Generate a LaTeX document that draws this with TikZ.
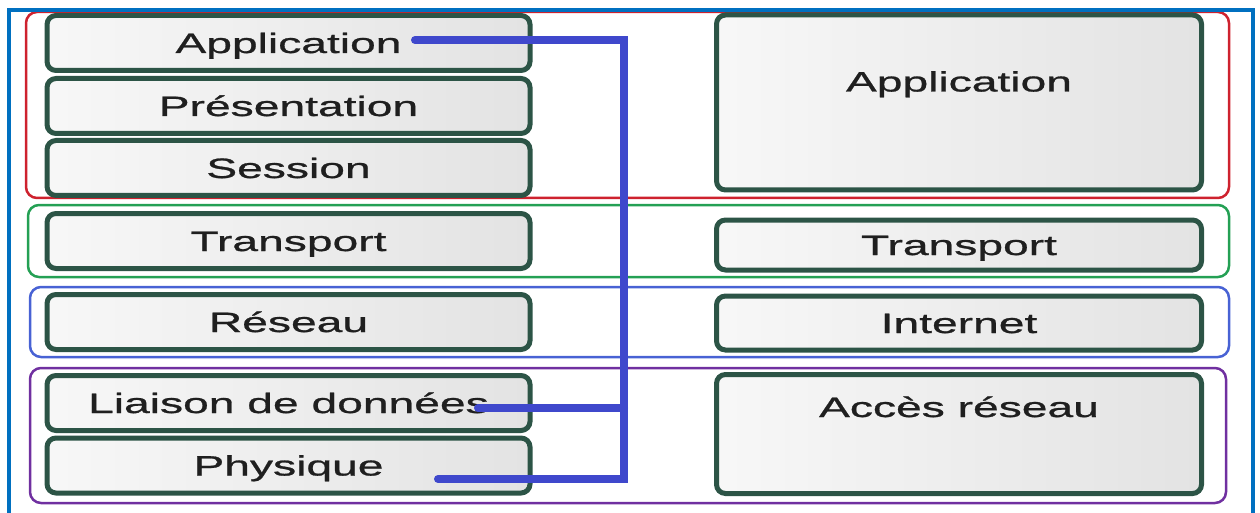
\documentclass[tikz,border=0pt]{standalone}
\usepackage{fontspec}
\setmainfont{Liberation Sans}[FakeStretch=1.65, FakeBold=0.9]
\usepackage{tikz}
\usetikzlibrary{
    calc,
    positioning
}
\definecolor{cadrebleu}{RGB}{0,112,192}
\definecolor{busbleu}{RGB}{63,72,204}
\definecolor{bordvert}{RGB}{44,84,70}
\definecolor{grouperouge}{RGB}{206,34,46}
\definecolor{groupevert}{RGB}{36,160,84}
\definecolor{groupebleu}{RGB}{72,98,212}
\definecolor{groupeviolet}{RGB}{112,48,160}

\tikzset{
    couche/.style={draw=bordvert, line width=5pt, rounded corners=9pt,
        left color=black!3, right color=black!11, inner sep=0pt,
        minimum width=483pt, minimum height=55pt,
        font=\fontsize{28}{30}\selectfont, text=black!88,
        text height=26pt, text depth=6pt},
    etiquette/.style={inner sep=0pt, font=\fontsize{28}{30}\selectfont,
        text=black!88, text height=26pt, text depth=6pt},
    groupe/.style={line width=2.5pt, rounded corners=11pt},
    bus/.style={draw=busbleu, line width=8pt, line cap=round}
}

\begin{document}
\begin{tikzpicture}[x=1pt, y=-1pt]
    \useasboundingbox (0, 0) rectangle (1260, 513);
    % groupes de couches
    \draw[groupe, grouperouge] (26, 12) rectangle (1229, 198);
    \draw[groupe, groupevert] (28, 205) rectangle (1229, 277);
    \draw[groupe, groupebleu] (30, 287) rectangle (1229, 357);
    \draw[groupe, groupeviolet] (30, 368) rectangle (1226, 503);
    \draw[cadrebleu, line width=4pt] (9, 530) -- (9, 10) -- (1253, 10) -- (1253, 530);

    % modele OSI
    \node[couche] (app) at (288.5, 43) {Application};
    \node[couche] (pres) at (288.5, 106) {Présentation};
    \node[couche] (sess) at (288.5, 168) {Session};
    \node[couche] (transp) at (288.5, 241) {Transport};
    \node[couche] (reseau) at (288.5, 322) {Réseau};
    \node[couche] (liaison) at (288.5, 403) {Liaison de données};
    \node[couche] (phys) at (288.5, 465.5) {Physique};

    % modele TCP/IP
    \node[couche, minimum width=485pt, minimum height=175pt] (appR) at (959, 102.5) {};
    \node[etiquette] (appRtxt) at ($(appR.north)+(0, 69)$) {Application};
    \node[couche, minimum width=485pt, minimum height=50pt] (transpR) at (959, 245) {Transport};
    \node[couche, minimum width=485pt, minimum height=54pt] (internet) at (959, 323) {Internet};
    \node[couche, minimum width=485pt, minimum height=119pt] (acces) at (959, 434) {};
    \node[etiquette] (accestxt) at ($(acces.north)+(0, 35)$) {Accès réseau};

    % liaisons
    \coordinate (appBout) at (415, 40);
    \coordinate (liaisonBout) at (478, 408);
    \coordinate (physBout) at (438, 479);
    \coordinate (busHaut) at (624, 40);
    \coordinate (busBas) at (624, 479);
    \draw[bus] (appBout) -- (busHaut) -- (busBas) -- (physBout);
    \draw[bus] (liaisonBout) -- (liaisonBout -| busHaut);
\end{tikzpicture}
\end{document}
